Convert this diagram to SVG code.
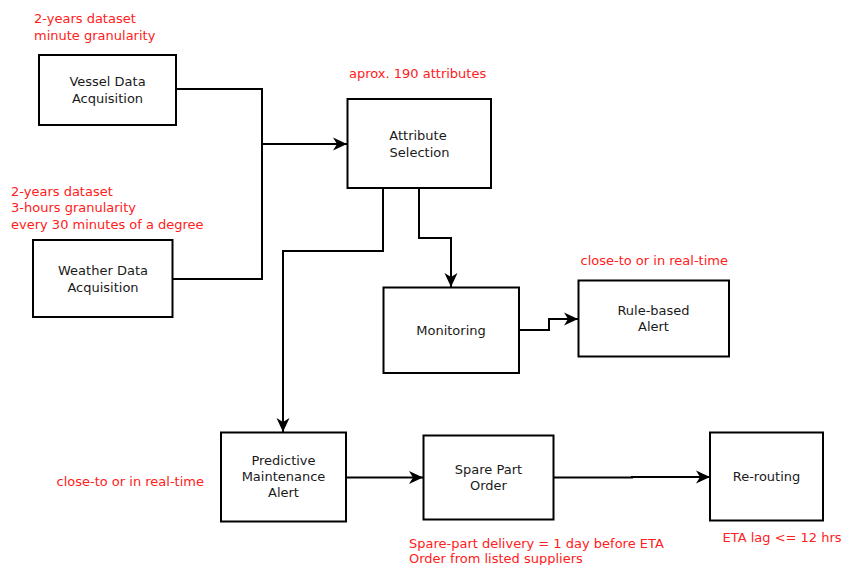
<svg xmlns="http://www.w3.org/2000/svg" width="843" height="565" viewBox="0 0 843 565">
  <style>
    .box { fill: #ffffff; stroke: #000000; stroke-width: 2; }
    .lbl { font-family: "DejaVu Sans", sans-serif; font-size: 13px; fill: #1a1a1a; text-anchor: middle; }
    .note { font-family: "DejaVu Sans", sans-serif; font-size: 13px; fill: #ff2020; }
    .wire { fill: none; stroke: #000000; stroke-width: 2; }
    .wire.arrow { marker-end: url(#head); }
  </style>
  <defs>
    <marker id="head" viewBox="-14 -7 14 14" refX="0" refY="0" markerWidth="14" markerHeight="14" markerUnits="userSpaceOnUse" orient="auto">
      <path d="M0,0 L-14,-6.5 L-10,0 L-14,6.5 Z" fill="#000000"/>
    </marker>
  </defs>
  <rect width="843" height="565" fill="#ffffff"/>

  <!-- connectors -->
  <g id="connectors">
    <polyline class="wire" points="176,89 262,89 262,279 173,279"/>
    <polyline class="wire arrow" points="261,144 347,144"/>
    <polyline class="wire arrow" points="419,188 419,238 451,238 451,287"/>
    <polyline class="wire arrow" points="383,188 383,251 283,251 283,432"/>
    <polyline class="wire arrow" points="519,330 549,330 549,319 578,319"/>
    <polyline class="wire arrow" points="346,477.5 423,477.5"/>
    <polyline class="wire arrow" points="554,477.5 632,477.5 632,477 710,477"/>
  </g>

  <g id="vessel">
    <rect class="box" x="39" y="55" width="137" height="70"/>
    <text class="lbl" x="107.5" y="86">Vessel Data</text>
    <text class="lbl" x="107.5" y="103">Acquisition</text>
  </g>
  <text class="note" x="34" y="23">2-years dataset</text>
  <text class="note" x="34" y="40">minute granularity</text>

  <g id="weather">
    <rect class="box" x="33" y="240" width="139.5" height="77"/>
    <text class="lbl" x="103" y="275">Weather Data</text>
    <text class="lbl" x="103" y="291.5">Acquisition</text>
  </g>
  <text class="note" x="11" y="195.5">2-years dataset</text>
  <text class="note" x="11" y="212">3-hours granularity</text>
  <text class="note" x="11" y="228.5">every 30 minutes of a degree</text>

  <g id="attribute">
    <rect class="box" x="347.5" y="99" width="143.5" height="89"/>
    <text class="lbl" x="418" y="139.5">Attribute</text>
    <text class="lbl" x="419.5" y="156.5">Selection</text>
  </g>
  <text class="note" x="349" y="78">aprox. 190 attributes</text>

  <g id="monitoring">
    <rect class="box" x="383.5" y="287.5" width="135.5" height="85.5"/>
    <text class="lbl" x="451" y="335">Monitoring</text>
  </g>

  <g id="rule-alert">
    <rect class="box" x="578.5" y="280.5" width="150.5" height="76"/>
    <text class="lbl" x="653.5" y="314.5">Rule-based</text>
    <text class="lbl" x="653.5" y="331">Alert</text>
  </g>
  <text class="note" x="580.5" y="265">close-to or in real-time</text>

  <g id="predictive">
    <rect class="box" x="221" y="432.5" width="125" height="89"/>
    <text class="lbl" x="283.5" y="464.5">Predictive</text>
    <text class="lbl" x="283.5" y="481">Maintenance</text>
    <text class="lbl" x="283.5" y="497">Alert</text>
  </g>
  <text class="note" x="56.5" y="486">close-to or in real-time</text>

  <g id="spare-order">
    <rect class="box" x="423.5" y="435.5" width="130" height="84"/>
    <text class="lbl" x="488.5" y="473.5">Spare Part</text>
    <text class="lbl" x="488.5" y="490">Order</text>
  </g>
  <text class="note" x="409" y="547.5">Spare-part delivery = 1 day before ETA</text>
  <text class="note" x="409" y="563">Order from listed suppliers</text>

  <g id="rerouting">
    <rect class="box" x="710" y="432.5" width="113" height="88"/>
    <text class="lbl" x="766.5" y="481">Re-routing</text>
  </g>
  <text class="note" x="722.5" y="542">ETA lag &lt;= 12 hrs</text>
</svg>
